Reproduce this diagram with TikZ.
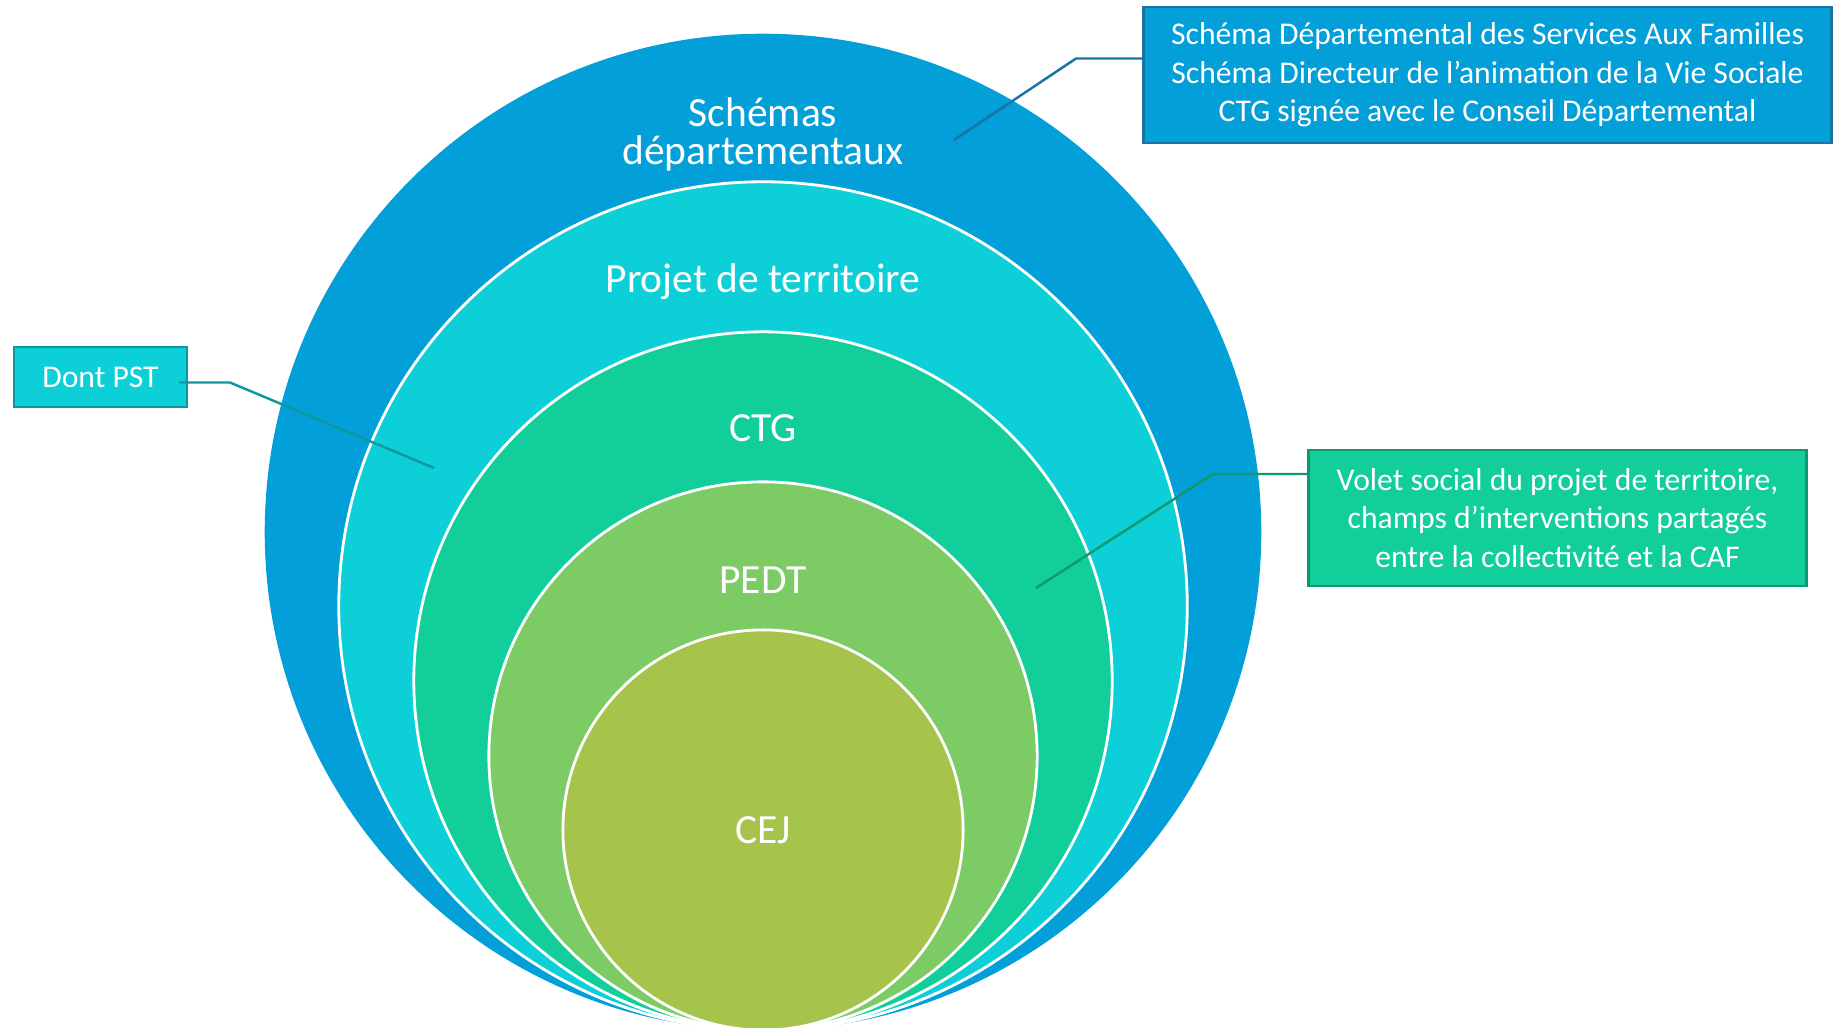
\documentclass[tikz,border=0pt]{standalone}
\usepackage{fontspec}
\setmainfont{Carlito}
\usepackage{xcolor}
\usetikzlibrary{positioning}

\definecolor{schemablue}{RGB}{2,159,217}
\definecolor{schemaedge}{RGB}{24,116,160}
\definecolor{territoirecyan}{RGB}{12,207,216}
\definecolor{territoireedge}{RGB}{14,152,158}
\definecolor{ctggreen}{RGB}{18,206,154}
\definecolor{ctgedge}{RGB}{16,152,112}
\definecolor{pedtgreen}{RGB}{125,203,101}
\definecolor{cejolive}{RGB}{166,195,76}

\tikzset{
  ring/.style={draw=white, line width=0.8pt},
  ringlabel/.style={text=white, font=\fontsize{11.8}{10.6}\selectfont, inner sep=0pt},
  callout/.style={draw, line width=0.8pt, text=white, align=center,
    font=\fontsize{9}{10.9}\selectfont, inner sep=0pt},
  lead/.style={line width=0.7pt}
}

\begin{document}
\begin{tikzpicture}[x=0.01cm, y=-0.01cm]
		%slide frame
		\useasboundingbox (0,0) rectangle (1834,1027);
		
		%centre of the circles, all touching at the bottom
		\def\xC{763}
		
		%circles
		\filldraw [fill = schemablue, draw = none] (\xC,532) circle (4.98cm);
		\filldraw [ring, fill = territoirecyan] (\xC,606) circle (4.24cm);
		\filldraw [ring, fill = ctggreen] (\xC,681) circle (3.49cm);
		\filldraw [ring, fill = pedtgreen] (\xC,756) circle (2.74cm);
		\filldraw [ring, fill = cejolive] (\xC,830) circle (2.00cm);
		
		%labels of the circles
		\node [ringlabel, align = center] (schemas) at (\xC,134.5) {Schémas\\départementaux};
		\node [ringlabel] (territoire) at (\xC,281.5) {Projet de territoire};
		\node [ringlabel] (ctg) at (\xC,428.5) {CTG};
		\node [ringlabel] (pedt) at (\xC,580) {PEDT};
		\node [ringlabel] (cej) at (\xC,830.5) {CEJ};
		
		%callouts
		\node [callout, fill = schemablue, draw = schemaedge, minimum width = 6.87cm, minimum height = 1.36cm] (familles) at (1487.5,75) {Schéma Départemental des Services Aux Familles\\Schéma Directeur de l’animation de la Vie Sociale\\CTG signée avec le Conseil Départemental};
		\node [callout, fill = territoirecyan, draw = territoireedge, minimum width = 1.73cm, minimum height = 0.60cm] (pst) at (100.5,377) {Dont PST};
		\node [callout, fill = ctggreen, draw = ctgedge, minimum width = 4.97cm, minimum height = 1.36cm] (volet) at (1557.5,518) {Volet social du projet de territoire,\\champs d’interventions partagés\\entre la collectivité et la CAF};
		
		%leader lines
		\coordinate (famillesknee) at (1076,58.5);
		\coordinate (famillesend) at (954,140);
		\draw [lead, schemaedge] ([yshift = 0.165cm]familles.west) -- (famillesknee) -- (famillesend);
		
		\coordinate (pstknee) at (230,382.5);
		\coordinate (pstend) at (434,468);
		\draw [lead, territoireedge] ([xshift = -0.09cm, yshift = -0.055cm]pst.east) -- (pstknee) -- (pstend);
		
		\coordinate (voletknee) at (1213,474);
		\coordinate (voletend) at (1036,588);
		\draw [lead, ctgedge] ([yshift = 0.44cm]volet.west) -- (voletknee) -- (voletend);
	\end{tikzpicture}
\end{document}
